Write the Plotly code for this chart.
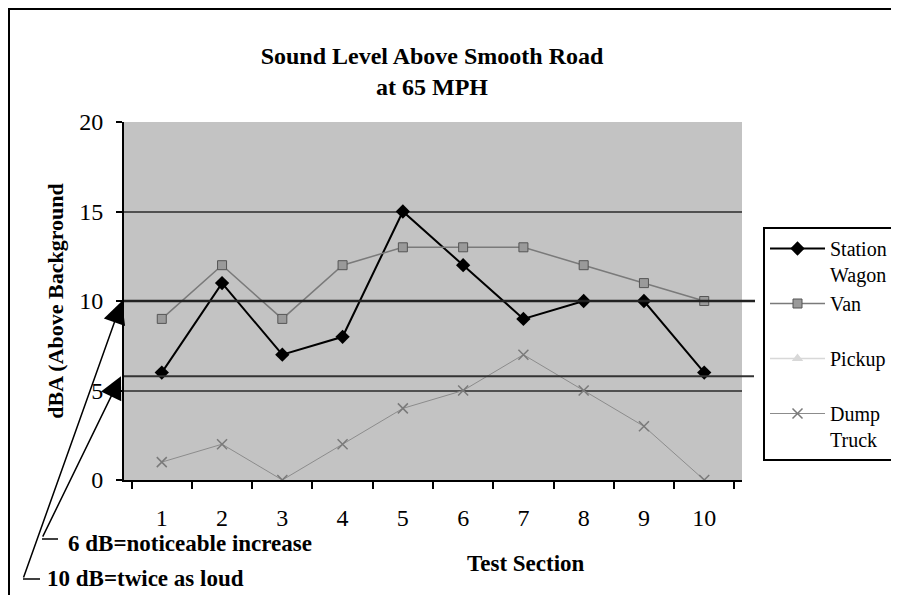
import plotly.graph_objects as go

# ---- data ----
sections = ["1", "2", "3", "4", "5", "6", "7", "8", "9", "10"]
station_wagon = [6, 11, 7, 8, 15, 12, 9, 10, 10, 6]
van = [9, 12, 9, 12, 13, 13, 13, 12, 11, 10]
pickup = [None] * 10  # pickup markers are not legible in the reference
dump_truck = [1, 2, 0, 2, 4, 5, 7, 5, 3, 0]
y_ticks = [0, 5, 10, 15, 20]
ref_twice = 10      # "10 dB = twice as loud" line
ref_notice = 5.8    # "6 dB = noticeable increase" line (as drawn)

# page body has an 8px margin: figure origin sits at (8, 8) in the window
OFF = 8
W, H = 899 - OFF, 595 - OFF
L, T = 124 - OFF, 122 - OFF
R = W - (742 - OFF)
B = H - (480 - OFF)
PW, PH = W - L - R, H - T - B
YMAX = 20


def px(x):  # window x -> paper x
    return (x - OFF - L) / PW


def py(y):  # window y -> paper y
    return (H - B - (y - OFF)) / PH


serif = "Liberation Serif, Times New Roman, serif"

fig = go.Figure()
fig.add_trace(go.Scatter(x=sections, y=station_wagon, name="Station<br>Wagon",
                         mode="lines+markers",
                         line=dict(color="black", width=2),
                         marker=dict(symbol="diamond", size=11, color="black")))
fig.add_trace(go.Scatter(x=sections, y=van, name="Van<br>\u00a0",
                         mode="lines+markers",
                         line=dict(color="#7a7a7a", width=1.5),
                         marker=dict(symbol="square", size=9, color="#9a9a9a",
                                     line=dict(color="#555555", width=1))))
fig.add_trace(go.Scatter(x=sections, y=pickup, name="Pickup<br>\u00a0",
                         mode="lines+markers",
                         line=dict(color="#d8d8d8", width=1.5),
                         marker=dict(symbol="triangle-up", size=10, color="#d8d8d8")))
fig.add_trace(go.Scatter(x=sections, y=dump_truck, name="Dump<br>Truck",
                         mode="lines+markers",
                         line=dict(color="#8c8c8c", width=1),
                         marker=dict(symbol="x-thin", size=10,
                                     line=dict(color="#7a7a7a", width=1.5))))

shapes = [
    # outer chart border
    dict(type="rect", xref="paper", yref="paper",
         x0=px(9), x1=px(920), y0=py(9), y1=py(620),
         line=dict(color="black", width=2), fillcolor="rgba(0,0,0,0)", layer="below"),
    # reference lines extending beyond the plot
    dict(type="line", xref="paper", yref="paper", x0=0, x1=px(755),
         y0=ref_twice / YMAX, y1=ref_twice / YMAX,
         line=dict(color="#222222", width=2.5)),
    dict(type="line", xref="paper", yref="paper", x0=0, x1=px(754),
         y0=ref_notice / YMAX, y1=ref_notice / YMAX,
         line=dict(color="#333333", width=2)),
    # bracket feet for callouts
    dict(type="line", xref="paper", yref="paper", x0=px(23), x1=px(40),
         y0=py(579), y1=py(579), line=dict(color="black", width=1.5)),
    dict(type="line", xref="paper", yref="paper", x0=px(42), x1=px(58),
         y0=py(539), y1=py(539), line=dict(color="black", width=1.5)),
]

annotations = [
    dict(xref="paper", yref="paper", x=px(122), y=ref_twice / YMAX,
         ax=23 - 122, ay=579 - 301, axref="pixel", ayref="pixel",
         showarrow=True, arrowhead=2, arrowsize=3, arrowwidth=1.5,
         arrowcolor="black", text=""),
    dict(xref="paper", yref="paper", x=px(121), y=ref_notice / YMAX,
         ax=42 - 121, ay=539 - 377, axref="pixel", ayref="pixel",
         showarrow=True, arrowhead=2, arrowsize=3, arrowwidth=1.5,
         arrowcolor="black", text=""),
    dict(xref="paper", yref="paper", x=px(66), y=py(543), xanchor="left",
         yanchor="middle", showarrow=False,
         text="<b>6 dB=noticeable increase</b>",
         font=dict(family=serif, size=23, color="black")),
    dict(xref="paper", yref="paper", x=px(45), y=py(578), xanchor="left",
         yanchor="middle", showarrow=False,
         text="<b>10 dB=twice as loud</b>",
         font=dict(family=serif, size=23, color="black")),
    dict(xref="paper", yref="paper", x=px(526), y=py(563), xanchor="center",
         yanchor="middle", showarrow=False,
         text="<b>Test Section</b>",
         font=dict(family=serif, size=23, color="black")),
]

fig.update_layout(
    width=W, height=H,
    margin=dict(l=L, r=R, t=T, b=B, autoexpand=False),
    paper_bgcolor="white",
    plot_bgcolor="#c3c3c3",
    title=dict(text="<b>Sound Level Above Smooth Road<br>at 65 MPH</b>",
               xref="container", x=(432 - OFF) / W, xanchor="center",
               yref="container", y=1 - 56 / H, yanchor="middle",
               font=dict(family=serif, size=24, color="black")),
    font=dict(family=serif, color="black"),
    showlegend=True,
    legend=dict(x=px(763), y=py(227), xanchor="left", yanchor="top",
                bgcolor="white", bordercolor="black", borderwidth=2,
                font=dict(family=serif, size=20, color="black"),
                valign="top", itemwidth=55, tracegroupgap=0,
                traceorder="normal"),
    xaxis=dict(type="category", tickson="boundaries", ticks="outside",
               ticklen=7, tickwidth=1.5, tickcolor="black",
               showline=True, linecolor="black", linewidth=2,
               showgrid=False, ticklabelstandoff=15,
               tickfont=dict(family=serif, size=24, color="black")),
    yaxis=dict(range=[0, YMAX], tickvals=y_ticks, ticks="outside",
               ticklen=6, tickwidth=1.5, tickcolor="black",
               showline=True, linecolor="black", linewidth=2,
               showgrid=True, gridcolor="#505050", gridwidth=1.5,
               zeroline=False, ticklabelstandoff=8,
               tickfont=dict(family=serif, size=24, color="black"),
               title=dict(text="<b>dBA (Above Background</b>", standoff=10,
                          font=dict(family=serif, size=22, color="black"))),
    shapes=shapes,
    annotations=annotations,
)

fig.write_html("out.html")
